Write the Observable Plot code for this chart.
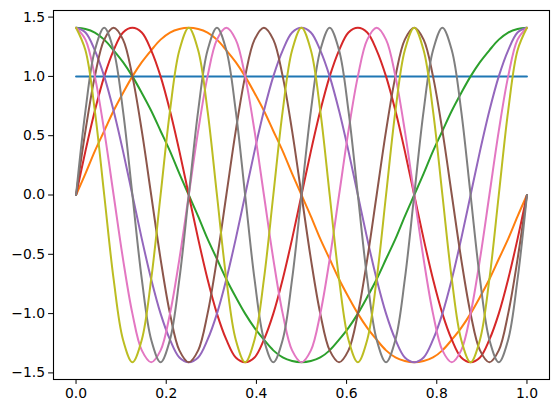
<!DOCTYPE html>
<html><head><meta charset="utf-8">
<script src="https://cdn.jsdelivr.net/npm/d3@7"></script>
<script src="https://cdn.jsdelivr.net/npm/@observablehq/plot@0.6"></script>
<style>html,body{margin:0;padding:0;background:#fff}</style>
</head><body><div id="chart"></div>
<script>
// Sample grid: x = 0, 1/48, ..., 1 (49 points)
const xs = d3.range(49).map(i => i / 48);

// Constant basis function
const constX = [0, 1];
const constY = [1, 1];

// Fourier basis values read at the 49 grid points
const sin1 = [0,.18,.37,.54,.71,.86,1,1.12,1.22,1.31,1.37,1.40,1.41,1.40,1.37,1.31,1.22,1.12,1,.86,.71,.54,.37,.18,0,-.18,-.37,-.54,-.71,-.86,-1,-1.12,-1.22,-1.31,-1.37,-1.40,-1.41,-1.40,-1.37,-1.31,-1.22,-1.12,-1,-.86,-.71,-.54,-.37,-.18,0];
const cos1 = [1.41,1.40,1.37,1.31,1.22,1.12,1,.86,.71,.54,.37,.18,0,-.18,-.37,-.54,-.71,-.86,-1,-1.12,-1.22,-1.31,-1.37,-1.40,-1.41,-1.40,-1.37,-1.31,-1.22,-1.12,-1,-.86,-.71,-.54,-.37,-.18,0,.18,.37,.54,.71,.86,1,1.12,1.22,1.31,1.37,1.40,1.41];
const sin2 = [0,.37,.71,1,1.22,1.37,1.41,1.37,1.22,1,.71,.37,0,-.37,-.71,-1,-1.22,-1.37,-1.41,-1.37,-1.22,-1,-.71,-.37,
              0,.37,.71,1,1.22,1.37,1.41,1.37,1.22,1,.71,.37,0,-.37,-.71,-1,-1.22,-1.37,-1.41,-1.37,-1.22,-1,-.71,-.37,0];
const cos2 = [1.41,1.37,1.22,1,.71,.37,0,-.37,-.71,-1,-1.22,-1.37,-1.41,-1.37,-1.22,-1,-.71,-.37,0,.37,.71,1,1.22,1.37,
              1.41,1.37,1.22,1,.71,.37,0,-.37,-.71,-1,-1.22,-1.37,-1.41,-1.37,-1.22,-1,-.71,-.37,0,.37,.71,1,1.22,1.37,1.41];
const sin3 = [0,.54,1,1.31,1.41,1.31,1,.54,0,-.54,-1,-1.31,-1.41,-1.31,-1,-.54,
              0,.54,1,1.31,1.41,1.31,1,.54,0,-.54,-1,-1.31,-1.41,-1.31,-1,-.54,
              0,.54,1,1.31,1.41,1.31,1,.54,0,-.54,-1,-1.31,-1.41,-1.31,-1,-.54,0];
const cos3 = [1.41,1.31,1,.54,0,-.54,-1,-1.31,-1.41,-1.31,-1,-.54,0,.54,1,1.31,
              1.41,1.31,1,.54,0,-.54,-1,-1.31,-1.41,-1.31,-1,-.54,0,.54,1,1.31,
              1.41,1.31,1,.54,0,-.54,-1,-1.31,-1.41,-1.31,-1,-.54,0,.54,1,1.31,1.41];
const sin4 = [0,.71,1.22,1.41,1.22,.71,0,-.71,-1.22,-1.41,-1.22,-.71,
              0,.71,1.22,1.41,1.22,.71,0,-.71,-1.22,-1.41,-1.22,-.71,
              0,.71,1.22,1.41,1.22,.71,0,-.71,-1.22,-1.41,-1.22,-.71,
              0,.71,1.22,1.41,1.22,.71,0,-.71,-1.22,-1.41,-1.22,-.71,0];
const cos4 = [1.41,1.22,.71,0,-.71,-1.22,-1.41,-1.22,-.71,0,.71,1.22,
              1.41,1.22,.71,0,-.71,-1.22,-1.41,-1.22,-.71,0,.71,1.22,
              1.41,1.22,.71,0,-.71,-1.22,-1.41,-1.22,-.71,0,.71,1.22,
              1.41,1.22,.71,0,-.71,-1.22,-1.41,-1.22,-.71,0,.71,1.22,1.41];

const xTicks = [0, 0.2, 0.4, 0.6, 0.8, 1.0];
const yTicks = [-1.5, -1.0, -0.5, 0.0, 0.5, 1.0, 1.5];

const colors = ["#1f77b4","#ff7f0e","#2ca02c","#d62728","#9467bd","#8c564b","#e377c2","#7f7f7f","#bcbd22"];

const seriesList = [
  {x: constX, y: constY},
  {x: xs, y: sin1},
  {x: xs, y: cos1},
  {x: xs, y: sin2},
  {x: xs, y: cos2},
  {x: xs, y: sin3},
  {x: xs, y: cos3},
  {x: xs, y: sin4},
  {x: xs, y: cos4}
];

const lineMarks = seriesList.map((s, k) =>
  Plot.line(s.y.map((v, i) => ({x: s.x[i], y: v})), {
    x: "x", y: "y", stroke: colors[k], strokeWidth: 2,
    curve: k === 0 ? "linear" : "catmull-rom"
  })
);

const chart = Plot.plot({
  width: 558, height: 413,
  marginLeft: 53, marginRight: 9, marginTop: 10, marginBottom: 34,
  x: {domain: [-0.05, 1.05]},
  y: {domain: [-1.5556, 1.5556]},
  style: {fontFamily: "DejaVu Sans", fontSize: "13.9px", background: "white", color: "black"},
  marks: [
    ...lineMarks,
    Plot.frame({stroke: "black", strokeWidth: 1.1}),
    Plot.axisX({ticks: xTicks, tickFormat: d3.format(".1f"), tickSize: 4.9, tickPadding: 3.5, fontSize: 13.9, label: null}),
    Plot.axisY({ticks: yTicks, tickFormat: d3.format(".1f"), tickSize: 4.9, tickPadding: 3.5, fontSize: 13.9, label: null})
  ]
});
document.getElementById("chart").appendChild(chart);
</script>
</body></html>
